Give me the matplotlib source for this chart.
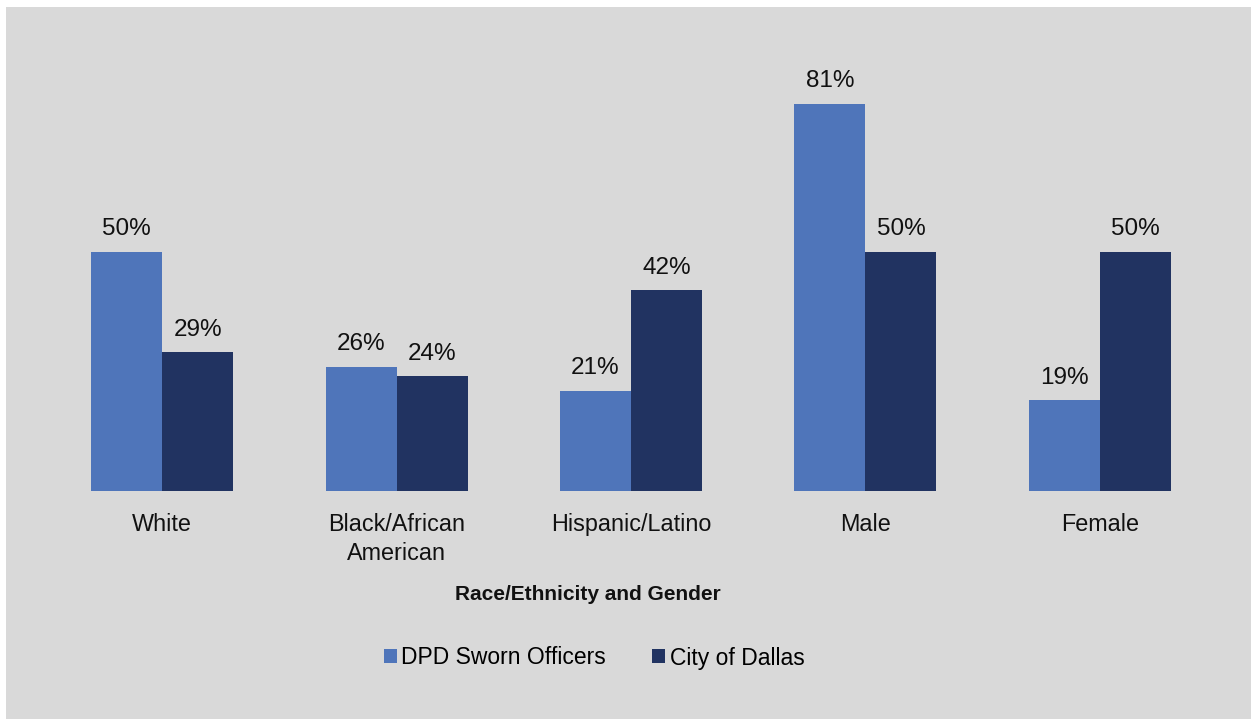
"""DPD sworn officers vs City of Dallas — race/ethnicity and gender shares."""
import matplotlib
matplotlib.use("Agg")
import matplotlib.pyplot as plt
import matplotlib.patches as mpatches
import numpy as np

plt.rcParams["font.family"] = ["Liberation Sans", "DejaVu Sans"]

categories = ["White", "Black/African\nAmerican", "Hispanic/Latino", "Male", "Female"]
dpd_officers = [0.50, 0.26, 0.21, 0.81, 0.19]
city_dallas = [0.29, 0.24, 0.42, 0.50, 0.50]
series_names = ["DPD Sworn Officers", "City of Dallas"]

C_DPD = "#4F75BA"
C_CITY = "#213361"
BG = "#D9D9D9"

W, H = 1253, 719
fig = plt.figure(figsize=(W / 100, H / 100), dpi=100, facecolor="white")
# grey chart area (white strip on top / left)
fig.patches.append(mpatches.Rectangle((6 / W, 0), (1251 - 6) / W, 1 - 7 / H,
                                      transform=fig.transFigure,
                                      facecolor=BG, edgecolor="none", zorder=-5))

ymax = 0.9
base_px = 491
ax = fig.add_axes([45 / W, 1 - base_px / H, 1172 / W, ymax * 478 / H])
ax.set_facecolor("none")
ax.set_zorder(2)

x = np.arange(len(categories))
bw = 0.303
b1 = ax.bar(x - bw / 2, dpd_officers, bw, color=C_DPD, label=series_names[0])
b2 = ax.bar(x + bw / 2, city_dallas, bw, color=C_CITY, label=series_names[1])

for bars, vals in ((b1, dpd_officers), (b2, city_dallas)):
    for r, v in zip(bars, vals):
        ax.annotate(f"{v:.0%}", (r.get_x() + r.get_width() / 2, v),
                    xytext=(0, 12), textcoords="offset points",
                    ha="center", va="baseline", fontsize=17.5, color="#111111")

ax.set_xlim(-0.5, len(categories) - 0.5)
ax.set_ylim(0, ymax)
ax.set_xticks(x)
ax.set_xticklabels(categories, fontsize=16.8, linespacing=1.33, color="#111111")
ax.tick_params(axis="x", length=0, pad=16)
ax.set_yticks([])
for s in ax.spines.values():
    s.set_visible(False)

fig.text(588 / W, 1 - 600 / H, "Race/Ethnicity and Gender",
         fontweight="bold", fontsize=15, ha="center", va="baseline", color="#111111")

leg = fig.legend(handles=[b1, b2], labels=series_names, loc="center",
                 bbox_to_anchor=(594 / W, 1 - 658 / H), ncol=2, frameon=False,
                 fontsize=16.5, handlelength=0.57, handleheight=0.57,
                 handletextpad=0.2, columnspacing=2.0)
leg.set_zorder(3)

fig.savefig("out.png", dpi=100, facecolor="white")
plt.close(fig)
